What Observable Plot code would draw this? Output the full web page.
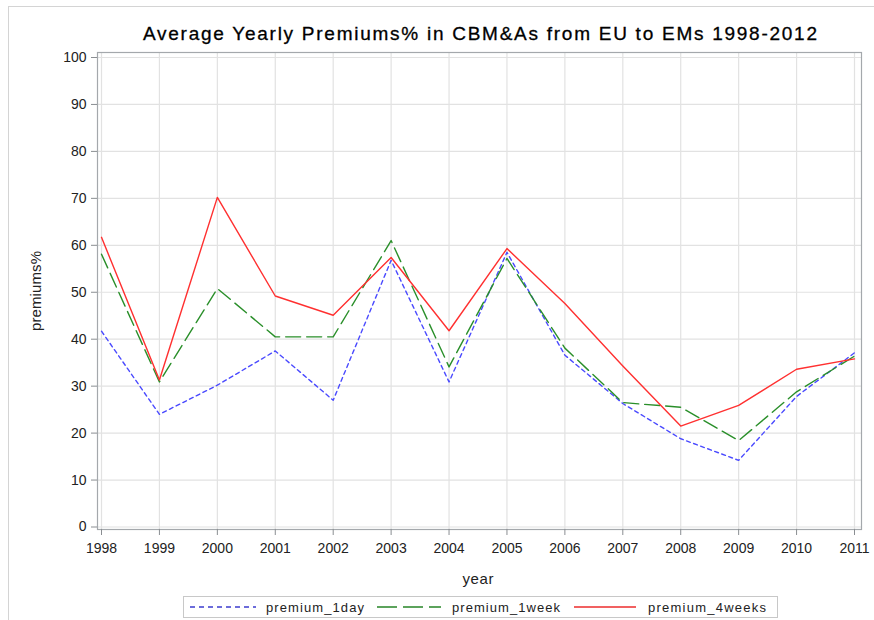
<!DOCTYPE html>
<html>
<head>
<meta charset="utf-8">
<script src="https://cdn.jsdelivr.net/npm/d3@7"></script>
<script src="https://cdn.jsdelivr.net/npm/@observablehq/plot@0.6"></script>
<style>
  html, body { margin: 0; padding: 0; background: #fff; }
  #wrap { position: relative; width: 874px; height: 620px; overflow: hidden; }
  #border { position: absolute; left: 8px; top: 6px; width: 900px; height: 700px; border-left: 1px solid #d4d4d4; border-top: 1px solid #d4d4d4; }
  #chart { position: absolute; left: 0; top: 0; }
  #overlay { position: absolute; left: 0; top: 0; }
</style>
</head>
<body>
<div id="wrap">
  <div id="border"></div>
  <div id="chart"></div>
  <svg id="overlay" width="874" height="620"></svg>
</div>
<script>
const title = "Average Yearly Premiums% in CBM&As from EU to EMs 1998-2012";
const xLabel = "year";
const yLabel = "premiums%";
const years = [1998, 1999, 2000, 2001, 2002, 2003, 2004, 2005, 2006, 2007, 2008, 2009, 2010, 2011];
const yTicks = [0, 10, 20, 30, 40, 50, 60, 70, 80, 90, 100];
const seriesNames = ["premium_1day", "premium_1week", "premium_4weeks"];
const premium1day   = [41.7, 24.0, 30.2, 37.5, 27.0, 56.8, 30.9, 58.5, 36.6, 26.3, 18.8, 14.2, 27.8, 37.1];
const premium1week  = [58.1, 30.9, 50.8, 40.5, 40.5, 61.0, 34.1, 57.2, 38.1, 26.5, 25.5, 18.4, 28.8, 36.4];
const premium4weeks = [61.7, 31.3, 70.2, 49.2, 45.1, 57.4, 41.8, 59.3, 47.6, 34.3, 21.5, 25.9, 33.6, 35.8];

const colors = ["#4a4aff", "#2a8f2a", "#ff3030"];
const dashes = ["4,3.5", "15,6", null];
const allValues = [premium1day, premium1week, premium4weeks];

const series = allValues.map((vals, i) => years.map((yr, j) => ({year: yr, value: vals[j], series: seriesNames[i]})));

const lineMarks = series.map((data, i) => Plot.lineY(data, {
  x: "year", y: "value", stroke: colors[i], strokeWidth: 1.4,
  strokeDasharray: dashes[i] || undefined
}));

const font = "'Liberation Sans', Arial, sans-serif";

const plot = Plot.plot({
  width: 874, height: 620,
  marginLeft: 97, marginRight: 13, marginTop: 52, marginBottom: 91,
  style: {fontFamily: font, fontSize: "14px", background: "transparent", color: "#222"},
  x: {domain: [1998, 2011], insetLeft: 4, insetRight: 7, label: null},
  y: {domain: [0, 100], insetTop: 5, insetBottom: 2.5, label: null},
  marks: [
    Plot.gridX(years, {stroke: "#e2e2e2", strokeOpacity: 1, strokeWidth: 1.2}),
    Plot.gridY(yTicks, {stroke: "#e2e2e2", strokeOpacity: 1, strokeWidth: 1.2}),
    ...lineMarks,
    Plot.frame({stroke: "#a4a8ac", strokeWidth: 1.2}),
    Plot.axisX(years, {tickSize: 6, tickPadding: 8, fontSize: 14, tickFormat: d => String(d), stroke: "#8a8e92", fill: "#222", label: null}),
    Plot.axisY(yTicks, {tickSize: 6, tickPadding: 5, fontSize: 14, stroke: "#8a8e92", fill: "#222", label: null})
  ]
});
document.getElementById("chart").appendChild(plot);

// overlay: title, axis labels, legend
const ov = d3.select("#overlay");
ov.append("text").attr("x", 480).attr("y", 40).attr("text-anchor", "middle")
  .attr("font-family", font).attr("font-size", 19)
  .attr("fill", "#000").attr("stroke", "#000").attr("stroke-width", 0.3)
  .attr("textLength", 674).attr("lengthAdjust", "spacing").text(title);
ov.append("text").attr("x", 478).attr("y", 584).attr("text-anchor", "middle")
  .attr("font-family", font).attr("font-size", 15).attr("fill", "#222")
  .attr("textLength", 31).attr("lengthAdjust", "spacing").text(xLabel);
ov.append("text").attr("transform", "translate(41,291) rotate(-90)").attr("text-anchor", "middle")
  .attr("font-family", font).attr("font-size", 15).attr("fill", "#222")
  .attr("textLength", 80).attr("lengthAdjust", "spacing").text(yLabel);

ov.append("rect").attr("x", 183.5).attr("y", 596.5).attr("width", 594).attr("height", 21)
  .attr("fill", "none").attr("stroke", "#c8c8c8");
const legendItems = [
  {x1: 190, x2: 256, tx: 266, tw: 98},
  {x1: 377, x2: 441, tx: 452, tw: 108},
  {x1: 574, x2: 636, tx: 648, tw: 118}
];
legendItems.forEach((it, i) => {
  ov.append("line").attr("x1", it.x1).attr("x2", it.x2).attr("y1", 607).attr("y2", 607)
    .attr("stroke", d3.color(colors[i]).darker(i === 0 ? 0.6 : 0.2)).attr("stroke-width", 1.4)
    .attr("stroke-dasharray", i === 0 ? "5,4" : (i === 1 ? "20,6" : null));
  ov.append("text").attr("x", it.tx).attr("y", 612)
    .attr("font-family", font).attr("font-size", 13).attr("fill", "#222")
    .attr("textLength", it.tw).attr("lengthAdjust", "spacing").text(seriesNames[i]);
});
</script>
</body>
</html>
